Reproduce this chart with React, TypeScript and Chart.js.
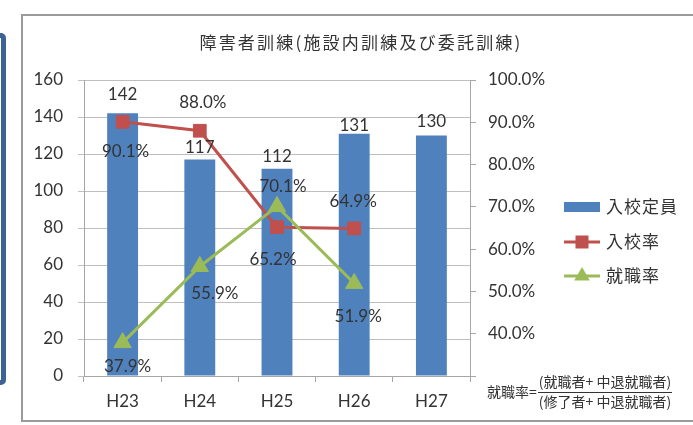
import React, { useEffect, useRef } from "react";
import { Chart, registerables } from "chart.js";

Chart.register(...registerables);

const categories = ["H23", "H24", "H25", "H26", "H27"];
const capacity = [142, 117, 112, 131, 130];
const admissionRate = [0.901, 0.88, 0.652, 0.649, null];
const employmentRate = [0.379, 0.559, 0.701, 0.519, null];
const leftTicks = { min: 0, max: 160, step: 20 };
const rightTicks = { min: 0.3, max: 1.0, step: 0.1 };

const TITLE = "障害者訓練(施設内訓練及び委託訓練)";
const LEGEND = ["入校定員", "入校率", "就職率"];
const FORMULA_LEFT = "就職率=";
const FORMULA_NUM = "(就職者+ 中退就職者)";
const FORMULA_DEN = "(修了者+ 中退就職者)";

const BLUE = "#4F81BD";
const RED = "#C0504D";
const GREEN = "#9BBB59";
const TEXT = "#333333";
const NUM_FONT = "Lato, 'Liberation Sans', sans-serif";
const CJK_FONT = "'Noto Sans CJK JP', sans-serif";

const pct = (v: number) => (v * 100).toFixed(1) + "%";

function drawTriangle(ctx: CanvasRenderingContext2D, x: number, y: number, r: number) {
  ctx.beginPath();
  ctx.moveTo(x, y - r);
  ctx.lineTo(x + 0.866 * r, y + 0.5 * r);
  ctx.lineTo(x - 0.866 * r, y + 0.5 * r);
  ctx.closePath();
  ctx.fill();
}

const extrasPlugin = {
  id: "extras",
  afterDatasetsDraw(chart: any) {
    const ctx: CanvasRenderingContext2D = chart.ctx;
    ctx.save();
    ctx.fillStyle = TEXT;
    ctx.textAlign = "center";
    ctx.textBaseline = "middle";
    ctx.font = `17px ${NUM_FONT}`;
    // bar labels
    const barOff = [-19, -12, -12, -8, -14];
    const barMeta = chart.getDatasetMeta(0);
    barMeta.data.forEach((el: any, i: number) => {
      ctx.fillText(String(capacity[i]), el.x, el.y + barOff[i]);
    });
    // line labels
    const redOff = [[3, 30], [3, -28], [-4, 32], [-1, -27]];
    const greenOff = [[5, 24], [15, 27], [6, -20], [4, 33]];
    const redMeta = chart.getDatasetMeta(1);
    redMeta.data.forEach((el: any, i: number) => {
      const v = admissionRate[i];
      if (v == null || !redOff[i]) return;
      ctx.fillText(pct(v), el.x + redOff[i][0], el.y + redOff[i][1]);
    });
    const greenMeta = chart.getDatasetMeta(2);
    greenMeta.data.forEach((el: any, i: number) => {
      const v = employmentRate[i];
      if (v == null || !greenOff[i]) return;
      ctx.fillText(pct(v), el.x + greenOff[i][0], el.y + greenOff[i][1]);
    });
    ctx.restore();
  },
  afterDraw(chart: any) {
    const ctx: CanvasRenderingContext2D = chart.ctx;
    ctx.save();
    ctx.fillStyle = TEXT;
    ctx.textBaseline = "middle";
    // title
    ctx.font = `17px ${CJK_FONT}`;
    (ctx as any).letterSpacing = "2.2px";
    ctx.textAlign = "center";
    ctx.fillText(TITLE, 361, 43);
    (ctx as any).letterSpacing = "0px";

    // legend
    ctx.textAlign = "left";
    ctx.font = `17px ${CJK_FONT}`;
    (ctx as any).letterSpacing = "1px";
    const lx0 = 564, lx1 = 600, tx = 606;
    const ys = [207, 242, 276];
    ctx.fillStyle = BLUE;
    ctx.fillRect(lx0, ys[0] - 5, lx1 - lx0, 10);
    ctx.strokeStyle = RED;
    ctx.lineWidth = 3;
    ctx.beginPath();
    ctx.moveTo(lx0, ys[1]);
    ctx.lineTo(lx1, ys[1]);
    ctx.stroke();
    ctx.fillStyle = RED;
    ctx.fillRect(582 - 6.5, ys[1] - 6.5, 13, 13);
    ctx.strokeStyle = GREEN;
    ctx.beginPath();
    ctx.moveTo(lx0, ys[2]);
    ctx.lineTo(lx1, ys[2]);
    ctx.stroke();
    ctx.fillStyle = GREEN;
    drawTriangle(ctx, 582, ys[2], 9);
    ctx.fillStyle = TEXT;
    LEGEND.forEach((t, i) => ctx.fillText(t, tx, ys[i]));
    (ctx as any).letterSpacing = "0px";

    // formula
    ctx.font = `14px ${CJK_FONT}`;
    ctx.textAlign = "left";
    ctx.fillText(FORMULA_LEFT, 487, 392);
    ctx.textAlign = "center";
    ctx.fillText(FORMULA_NUM, 605, 382);
    ctx.fillText(FORMULA_DEN, 605, 402);
    ctx.strokeStyle = TEXT;
    ctx.lineWidth = 1;
    ctx.beginPath();
    ctx.moveTo(538, 392.5);
    ctx.lineTo(672, 392.5);
    ctx.stroke();
    ctx.restore();
  },
};

export default function App() {
  const ref = useRef<HTMLCanvasElement | null>(null);

  useEffect(() => {
    document.body.style.margin = "0";
    const canvas = ref.current!;
    const chart = new Chart(canvas, {
      type: "bar",
      data: {
        labels: categories,
        datasets: [
          {
            type: "bar",
            label: LEGEND[0],
            data: capacity,
            backgroundColor: BLUE,
            yAxisID: "y",
            order: 2,
            categoryPercentage: 0.8,
            barPercentage: 0.5,
          },
          {
            type: "line",
            label: LEGEND[1],
            data: admissionRate as any,
            borderColor: RED,
            backgroundColor: RED,
            borderWidth: 3,
            pointStyle: "rect",
            pointRadius: 9,
            pointBorderWidth: 1,
            pointBorderColor: RED,
            pointBackgroundColor: RED,
            yAxisID: "y1",
            order: 1,
            spanGaps: false,
          },
          {
            type: "line",
            label: LEGEND[2],
            data: employmentRate as any,
            borderColor: GREEN,
            backgroundColor: GREEN,
            borderWidth: 3,
            pointStyle: "triangle",
            pointRadius: 10,
            pointBorderWidth: 1,
            pointBorderColor: GREEN,
            pointBackgroundColor: GREEN,
            yAxisID: "y1",
            order: 0,
          },
        ],
      },
      options: {
        responsive: false,
        animation: false,
        layout: { padding: { top: 80, left: 0, right: 0, bottom: 0 } },
        plugins: {
          legend: { display: false },
          title: { display: false },
          tooltip: { enabled: false },
        },
        scales: {
          x: {
            grid: {
              display: true,
              drawOnChartArea: false,
              drawTicks: true,
              tickLength: 6,
              color: "#A6A6A6",
            },
            border: { display: true, color: "#A6A6A6" },
            ticks: {
              color: TEXT,
              font: { family: NUM_FONT, size: 17 },
              padding: 9,
              maxRotation: 0,
            },
            afterFit(scale: any) {
              scale.height = 49;
            },
          },
          y: {
            position: "left",
            min: leftTicks.min,
            max: leftTicks.max,
            grid: { color: "#BFBFBF", tickLength: 6, lineWidth: 1 },
            border: { display: true, color: "#A6A6A6" },
            ticks: {
              stepSize: leftTicks.step,
              color: TEXT,
              font: { family: NUM_FONT, size: 17 },
              padding: 15,
            },
            afterFit(scale: any) {
              scale.width = 84;
            },
          },
          y1: {
            position: "right",
            min: rightTicks.min,
            max: rightTicks.max,
            grid: { drawOnChartArea: false, tickLength: 6, color: "#A6A6A6" },
            border: { display: true, color: "#A6A6A6" },
            ticks: {
              stepSize: rightTicks.step,
              color: TEXT,
              font: { family: NUM_FONT, size: 17 },
              padding: 12,
              callback: (v: any) => (Number(v) < rightTicks.min + 0.05 ? "" : pct(Number(v))),
            },
            afterFit(scale: any) {
              scale.width = 223;
            },
          },
        },
      },
      plugins: [extrasPlugin],
    });
    return () => chart.destroy();
  }, []);

  return (
    <div
      style={{
        position: "fixed",
        left: 0,
        top: 0,
        width: 693,
        height: 425,
        background: "#ffffff",
        overflow: "hidden",
      }}
    >
      <div
        style={{
          position: "absolute",
          left: -60,
          top: 33,
          width: 66,
          height: 352,
          boxSizing: "border-box",
          border: "5px solid #3D6394",
          borderRadius: 5,
        }}
      />
      <div
        style={{
          position: "absolute",
          left: 21,
          top: 14,
          width: 700,
          height: 408,
          boxSizing: "border-box",
          border: "2px solid #9A9A9A",
        }}
      />
      <canvas
        ref={ref}
        width={693}
        height={425}
        style={{ position: "absolute", left: 0, top: 0, width: 693, height: 425 }}
      />
    </div>
  );
}
